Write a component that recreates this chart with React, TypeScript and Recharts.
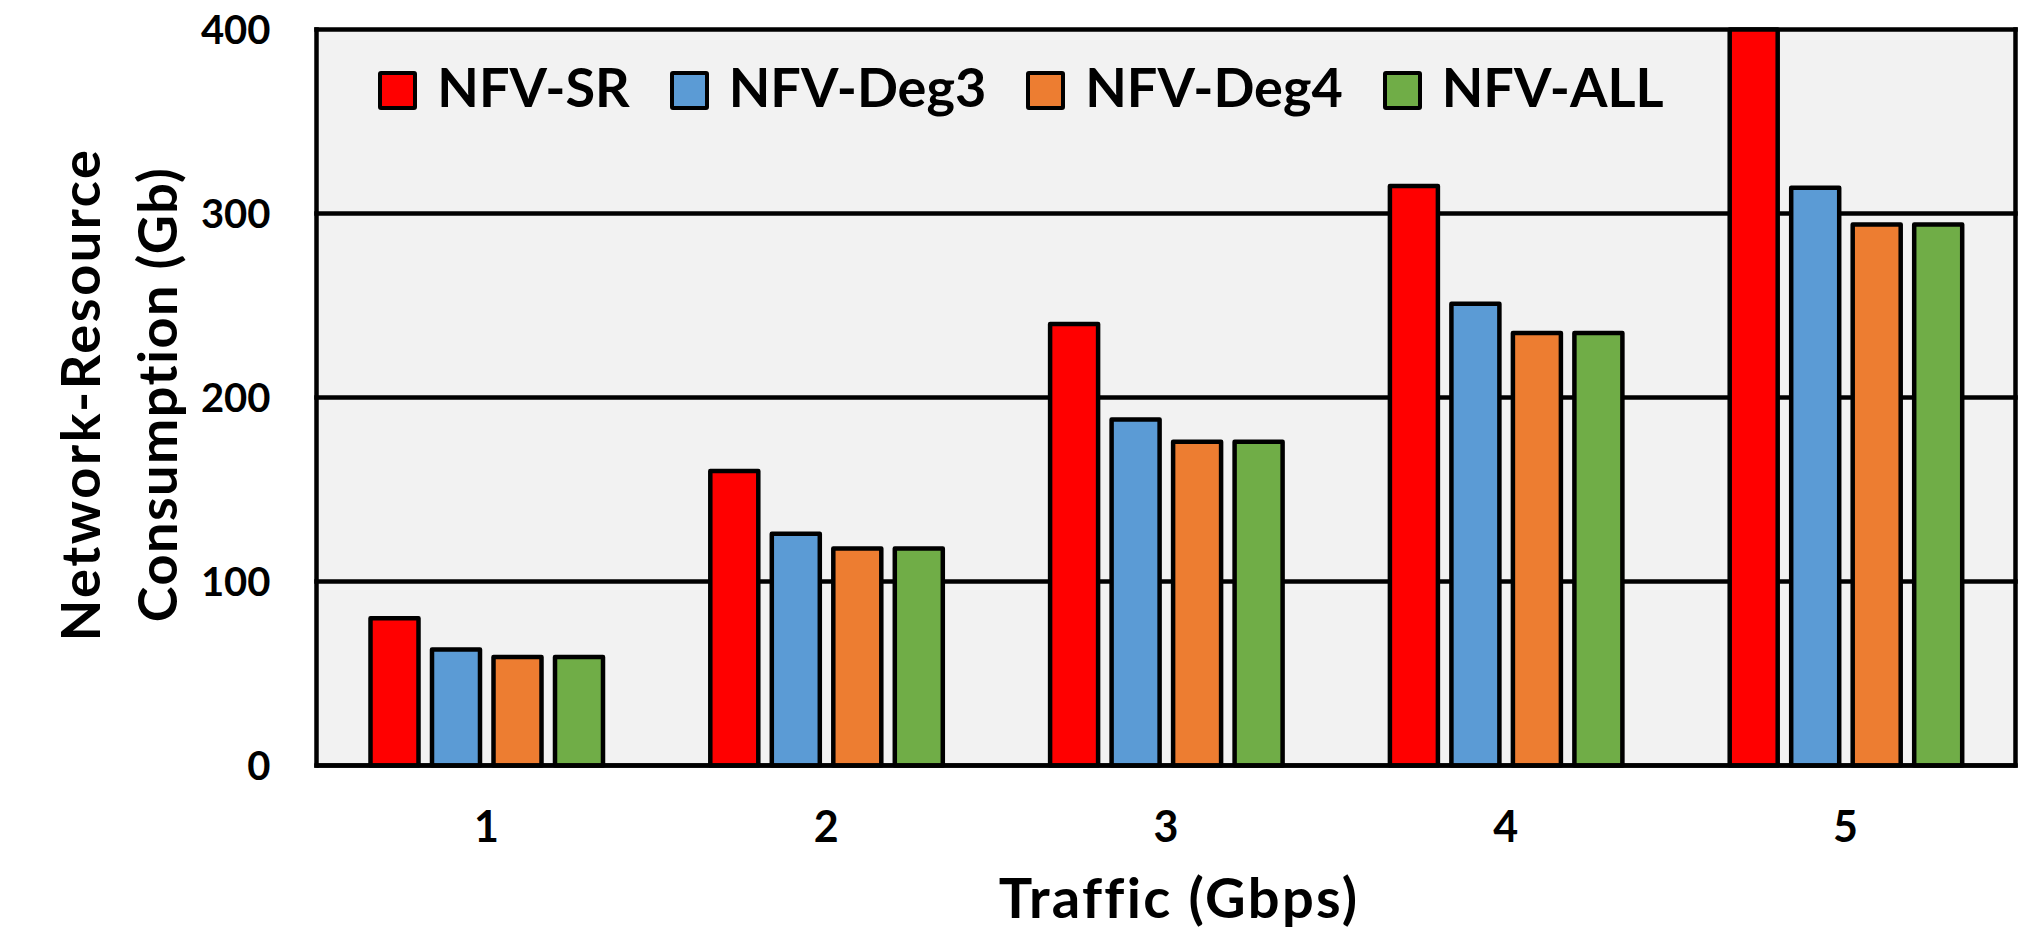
import {
  BarChart,
  Bar,
  XAxis,
  YAxis,
  CartesianGrid,
  Legend,
  Label,
} from "recharts";

const TRAFFIC = ["1", "2", "3", "4", "5"];
const NFV_SR = [80, 160, 240, 315, 400];
const NFV_DEG3 = [63, 126, 188, 251, 314];
const NFV_DEG4 = [59, 118, 176, 235, 294];
const NFV_ALL = [59, 118, 176, 235, 294];
const Y_TICKS = [0, 100, 200, 300, 400];

const SERIES = [
  { key: "sr", name: "NFV-SR", color: "#ff0000", values: NFV_SR },
  { key: "deg3", name: "NFV-Deg3", color: "#5b9bd5", values: NFV_DEG3 },
  { key: "deg4", name: "NFV-Deg4", color: "#ed7d31", values: NFV_DEG4 },
  { key: "all", name: "NFV-ALL", color: "#70ad47", values: NFV_ALL },
];

const FONT = "Lato, 'Open Sans', sans-serif";

const data = TRAFFIC.map((t, i) => {
  const row: Record<string, string | number> = { traffic: t };
  for (const s of SERIES) row[s.key] = s.values[i];
  return row;
});

// legend keeps the series order (recharts sorts its payload by name)
function LegendContent() {
  return (
    <div style={{ display: "flex", alignItems: "center" }}>
      {SERIES.map((s, i) => (
        <div
          key={s.key}
          style={{
            display: "flex",
            alignItems: "center",
            marginRight: i < SERIES.length - 1 ? 40 : 0,
          }}
        >
          <span
            style={{
              display: "inline-block",
              boxSizing: "border-box",
              width: 39,
              height: 39,
              border: "4.5px solid #000",
              borderRadius: 3,
              background: s.color,
              marginRight: 20,
              position: "relative",
              top: 3.5,
            }}
          />
          <span
            style={{
              fontFamily: FONT,
              fontWeight: 700,
              fontSize: 54,
              lineHeight: "54px",
              color: "#000",
              whiteSpace: "nowrap",
            }}
          >
            {s.name}
          </span>
        </div>
      ))}
    </div>
  );
}

function YTitle({ viewBox }: any) {
  const cy = viewBox.y + viewBox.height / 2 - 3;
  const style = { fontFamily: FONT, fontWeight: 700, fontSize: 54 };
  return (
    <g>
      <text
        x={100}
        y={cy}
        textAnchor="middle"
        transform={`rotate(-90, 100, ${cy})`}
        fill="#000"
        style={{ ...style, letterSpacing: 2.6 }}
      >
        Network-Resource
      </text>
      <text
        x={177}
        y={cy}
        textAnchor="middle"
        transform={`rotate(-90, 177, ${cy})`}
        fill="#000"
        style={{ ...style, letterSpacing: 1.5 }}
      >
        Consumption (Gb)
      </text>
    </g>
  );
}

export default function App() {
  return (
    <div style={{ position: "absolute", left: 0, top: 0, background: "#fff" }}>
      <BarChart
        width={2026}
        height={951}
        data={data}
        margin={{ top: 29.5, right: 10.5, bottom: 0, left: 0 }}
        barSize={48}
        barGap={13.5}
      >
        <CartesianGrid
          fill="#f2f2f2"
          stroke="#000"
          strokeWidth={4.5}
          strokeLinecap="square"
          verticalCoordinatesGenerator={({ offset }: any) => [
            offset.left,
            offset.left + offset.width,
          ]}
        />
        <XAxis
          dataKey="traffic"
          height={185.5}
          axisLine={{ stroke: "#000", strokeWidth: 4.5 }}
          tickLine={false}
          tickSize={0}
          tickMargin={46}
          tick={{ fill: "#000", fontSize: 43, fontWeight: 700, fontFamily: FONT }}
        >
          <Label
            value="Traffic (Gbps)"
            position="insideTop"
            offset={112.8}
            dx={13}
            fill="#000"
            style={{ fontFamily: FONT, fontWeight: 700, fontSize: 56, letterSpacing: 2.3 }}
          />
        </XAxis>
        <YAxis
          width={316.5}
          domain={[0, 400]}
          ticks={Y_TICKS}
          axisLine={false}
          tickLine={false}
          tickSize={0}
          tickMargin={46}
          tick={{ fill: "#000", fontSize: 40, fontWeight: 700, fontFamily: FONT }}
          label={{ content: (props: any) => <YTitle viewBox={props.viewBox} /> }}
        />
        <Legend
          layout="horizontal"
          verticalAlign="middle"
          align="center"
          wrapperStyle={{ top: 60.3, left: 378.3, width: "auto" }}
          content={<LegendContent />}
        />
        {SERIES.map((s) => (
          <Bar
            key={s.key}
            dataKey={s.key}
            name={s.name}
            fill={s.color}
            stroke="#000"
            strokeWidth={4.5}
            strokeLinejoin="round"
            isAnimationActive={false}
          />
        ))}
      </BarChart>
    </div>
  );
}
